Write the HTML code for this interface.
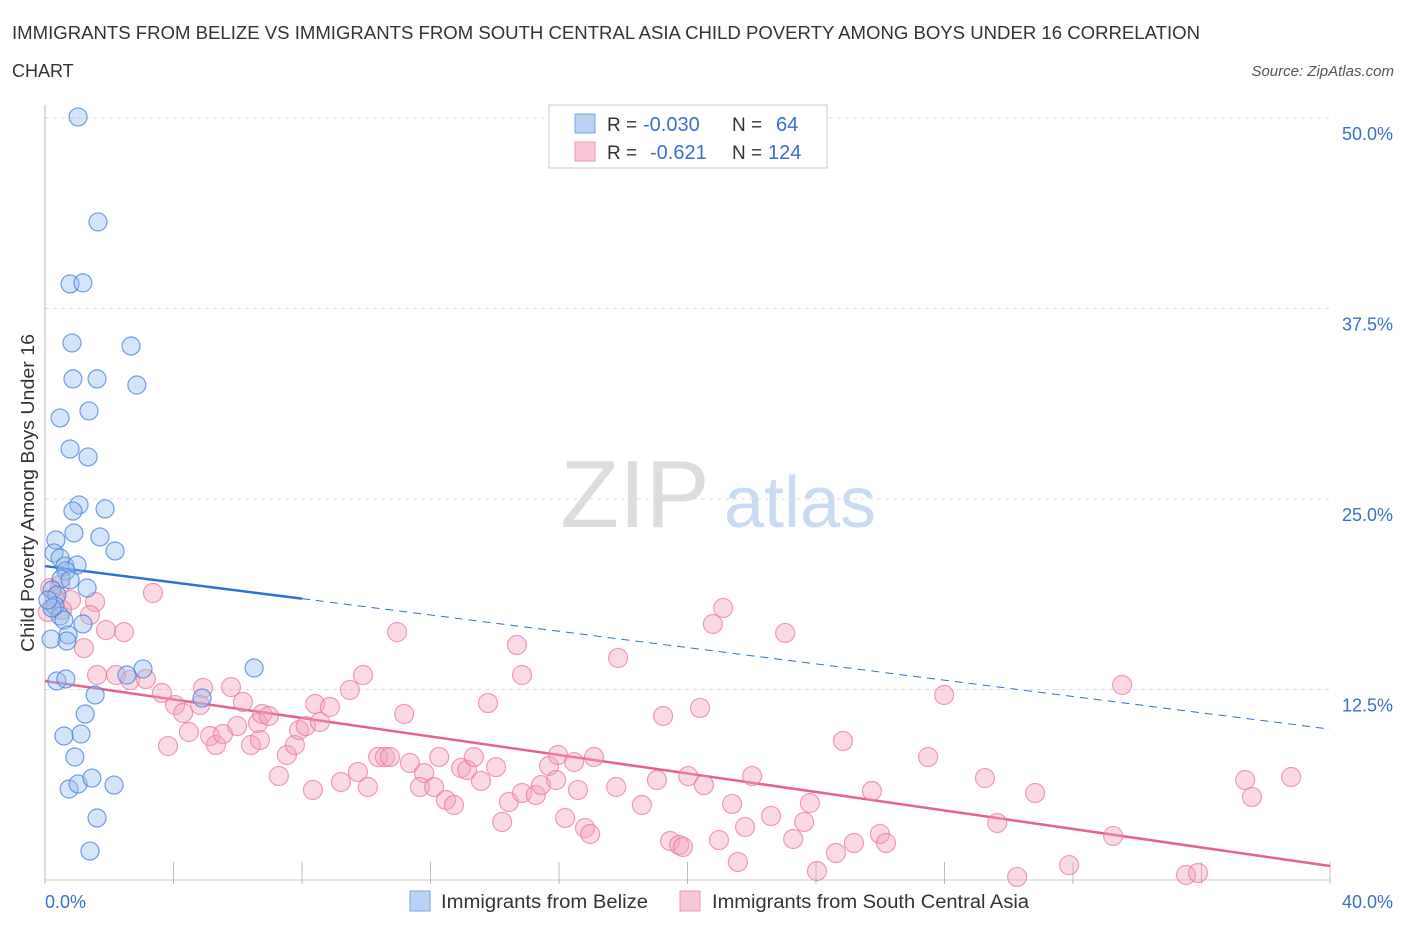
<!DOCTYPE html>
<html><head><meta charset="utf-8"><style>
body{margin:0;background:#fff;font-family:"Liberation Sans",sans-serif;}
svg text{font-family:"Liberation Sans",sans-serif;}
</style></head><body>
<svg id="chart" width="1406" height="930" xmlns="http://www.w3.org/2000/svg">
<text x="12" y="39" font-size="18" fill="#333" textLength="1188" lengthAdjust="spacingAndGlyphs">IMMIGRANTS FROM BELIZE VS IMMIGRANTS FROM SOUTH CENTRAL ASIA CHILD POVERTY AMONG BOYS UNDER 16 CORRELATION</text>
<text x="12" y="77" font-size="18" fill="#333">CHART</text>
<text x="1394" y="76" font-size="15" font-style="italic" fill="#555" text-anchor="end">Source: ZipAtlas.com</text>
<text transform="translate(34,493) rotate(-90)" font-size="18" fill="#333" text-anchor="middle" textLength="318" lengthAdjust="spacingAndGlyphs">Child Poverty Among Boys Under 16</text>
<g><text x="635" y="527" font-size="96" font-family="Liberation Serif" fill="#ddd" text-anchor="middle">ZIP</text><text x="800" y="527" font-size="72" fill="#c9dcf2" text-anchor="middle">atlas</text></g>
<g id="grid"></g><g id="axes"></g><g id="lines"></g><g id="pts"></g>
<g>
<rect x="549" y="105" width="278" height="63" fill="#fff" stroke="#ccc"/>
<rect x="575" y="114" width="20" height="19" fill="#b7d2f3" stroke="#7aa6e0"/>
<rect x="575" y="142" width="20" height="19" fill="#f8c6d4" stroke="#eb9ab2"/>
<text x="607" y="131" font-size="19" fill="#333">R =</text>
<text x="643" y="131" font-size="20" fill="#3a6fcf">-0.030</text>
<text x="732" y="131" font-size="19" fill="#333">N =</text>
<text x="776" y="131" font-size="20" fill="#3a6fcf">64</text>
<text x="607" y="159" font-size="19" fill="#333">R =</text>
<text x="650" y="159" font-size="20" fill="#3a6fcf">-0.621</text>
<text x="732" y="159" font-size="19" fill="#333">N =</text>
<text x="768" y="159" font-size="20" fill="#3a6fcf">124</text>
</g>
<g>
<rect x="410" y="891" width="20" height="20" fill="#b7d2f3" stroke="#7aa6e0"/>
<text x="441" y="908" font-size="19" fill="#333" textLength="207" lengthAdjust="spacingAndGlyphs">Immigrants from Belize</text>
<rect x="680" y="891" width="20" height="20" fill="#f8c6d4" stroke="#eb9ab2"/>
<text x="712" y="908" font-size="19" fill="#333" textLength="317" lengthAdjust="spacingAndGlyphs">Immigrants from South Central Asia</text>
</g>
</svg>
<script>
const blueX=[1.03,1.65,0.78,1.18,0.84,2.68,0.87,1.62,2.86,0.47,1.37,0.78,1.34,1.06,0.87,1.87,0.90,1.71,0.34,2.18,0.28,0.47,0.62,1.00,0.65,0.50,0.78,1.31,0.22,0.37,0.31,0.47,0.59,1.18,0.72,0.68,0.19,3.05,6.51,0.37,0.65,2.55,1.56,1.25,1.12,0.59,0.93,0.75,1.03,1.46,2.15,1.62,1.40,0.22,0.09,4.89];
const blueY=[50.07,43.18,39.11,39.18,35.24,35.04,32.88,32.88,32.48,30.32,30.78,28.28,27.76,24.61,24.21,24.35,22.77,22.51,22.31,21.59,21.46,21.13,20.60,20.67,20.28,19.75,19.69,19.16,19.03,18.70,17.98,17.32,17.06,16.80,16.08,15.68,15.81,13.85,13.91,13.06,13.19,13.45,12.14,10.89,9.58,9.45,8.07,5.97,6.30,6.69,6.23,4.07,1.90,17.85,18.37,11.94];
const pinkX=[3.36,0.81,1.56,0.53,1.40,0.09,1.90,2.46,1.21,1.62,2.21,2.65,3.14,3.64,4.05,4.30,4.48,3.83,4.92,4.83,5.14,5.32,5.54,5.79,5.98,6.16,6.63,6.76,6.97,6.41,6.69,7.28,7.53,7.78,7.91,8.12,8.56,8.41,8.87,9.49,9.90,8.34,9.21,9.74,10.05,10.37,10.58,10.74,11.18,10.96,11.36,11.80,11.67,12.11,12.27,12.48,12.73,12.95,13.14,13.35,13.57,13.79,14.04,14.44,14.23,14.69,14.85,14.85,15.28,15.44,15.69,15.91,15.97,16.19,16.47,16.59,16.81,16.97,17.09,17.84,17.78,18.58,19.05,19.24,19.46,19.74,19.86,20.02,20.39,20.51,20.79,20.98,21.11,21.39,21.57,21.79,22.01,22.60,23.04,23.29,23.63,23.81,24.03,24.62,24.84,25.18,25.74,25.99,26.18,27.49,27.99,29.26,29.64,30.26,30.82,31.88,33.25,33.53,35.52,35.89,37.36,37.57,38.79,0.16,0.31,0.47];
const pinkY=[18.83,18.37,18.24,17.72,17.39,17.59,16.40,16.27,15.22,13.45,13.45,13.12,13.19,12.27,11.48,10.96,9.71,8.79,12.60,11.48,9.45,8.86,9.58,12.66,10.10,11.68,10.30,10.89,10.76,8.86,9.19,6.82,8.20,8.86,9.84,10.10,10.37,11.55,11.35,12.47,13.45,5.91,6.43,7.09,6.10,8.07,8.07,8.07,10.89,16.27,7.68,7.02,6.10,6.10,8.07,5.25,4.92,7.35,7.22,8.07,6.50,11.61,7.41,5.12,3.81,15.42,13.45,5.71,5.58,6.23,7.48,6.56,8.20,4.07,7.74,5.91,3.41,3.02,8.07,14.57,6.10,4.92,6.56,10.76,2.56,2.30,2.17,6.82,11.29,6.23,16.80,2.62,17.85,4.99,1.18,3.48,6.82,4.20,16.21,2.69,3.81,5.05,0.59,1.77,9.12,2.43,5.84,3.02,2.43,8.07,12.14,6.69,3.74,0.20,5.71,0.98,2.89,12.80,0.33,0.46,6.56,5.45,6.76,19.16,18.50,19.36];
const yTicks=[12.5,25,37.5,50];
const yTickLabels=["12.5%","25.0%","37.5%","50.0%"];
const blueFit=[20.6,9.9];
const pinkFit=[13.06,0.92];
const X=v=>45+v/40*1285, Y=v=>880-v*15.24;
const NS="http://www.w3.org/2000/svg";
function mk(p,t,a){const e=document.createElementNS(NS,t);for(const k in a)e.setAttribute(k,a[k]);document.getElementById(p).appendChild(e);return e;}
yTicks.forEach((t,i)=>{
 const g=mk('grid','line',{x1:45,x2:1330,y1:Y(t),y2:Y(t),stroke:'#ddd','stroke-dasharray':'4,4'});
 
 
 const l=mk('grid','text',{x:1393,y:Y(t)+22,'font-size':18,fill:'#3a6fcf','text-anchor':'end'});
 l.textContent=yTickLabels[i];
 
 
});
const ax=mk('axes','line',{x1:45,x2:45,y1:105,y2:880,stroke:'#bbb'});


const bx=mk('axes','line',{x1:45,x2:1330,y1:880,y2:880,stroke:'#ccc'});


for(let i=0;i<=10;i++){const t=mk('axes','line',{x1:X(i*4),x2:X(i*4),y1:862,y2:884,stroke:'#bbb'});
 
 }
const xl0=mk('axes','text',{x:45,y:908,'font-size':18,fill:'#3a6fcf'});xl0.textContent='0.0%';


const xl1=mk('axes','text',{x:1393,y:908,'font-size':18,fill:'#3a6fcf','text-anchor':'end'});xl1.textContent='40.0%';


const bf=v=>blueFit[0]+(blueFit[1]-blueFit[0])*v/40, pf=v=>pinkFit[0]+(pinkFit[1]-pinkFit[0])*v/40;
pinkX.forEach((x,i)=>{const c=mk('pts','circle',{cx:X(x),cy:Y(pinkY[i]),r:9.5,fill:'rgba(244,160,188,0.4)',stroke:'rgba(232,120,155,0.7)','stroke-width':1.2});
 
 });
blueX.forEach((x,i)=>{const c=mk('pts','circle',{cx:X(x),cy:Y(blueY[i]),r:9,fill:'rgba(150,190,240,0.4)',stroke:'rgba(70,130,215,0.75)','stroke-width':1.2});
 
 });
const l1=mk('lines','line',{x1:X(0),y1:Y(bf(0)),x2:X(8),y2:Y(bf(8)),stroke:'#2f6fd6','stroke-width':2.5});


const l2=mk('lines','line',{x1:X(8),y1:Y(bf(8)),x2:X(40),y2:Y(bf(40)),stroke:'#2f6fd6','stroke-width':1,'stroke-dasharray':'8,6'});


const l3=mk('lines','line',{x1:X(0),y1:Y(pf(0)),x2:X(40),y2:Y(pf(40)),stroke:'#e8608c','stroke-width':2.5});


</script>
</body></html>
